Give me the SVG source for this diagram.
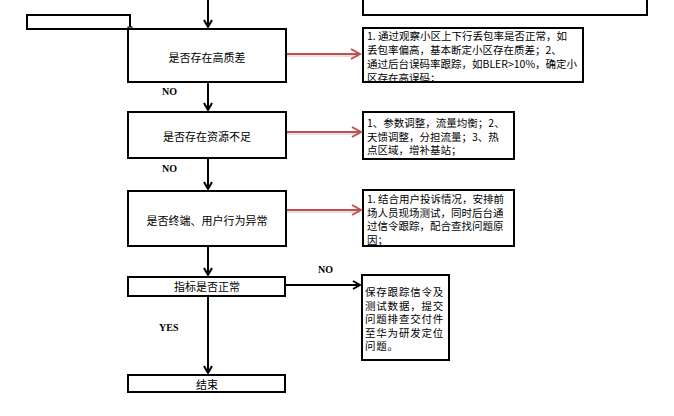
<svg xmlns="http://www.w3.org/2000/svg" width="674" height="416" viewBox="0 0 674 416">
<style>
.box{fill:#fff;stroke:#000;stroke-width:2}
.t{font-family:"Noto Sans CJK SC","Liberation Sans",sans-serif;font-size:11px;fill:#000}
.s{font-size:10.5px}
.c{text-anchor:middle;dominant-baseline:central}
.lbl{font-family:"Liberation Serif",serif;font-size:10px;font-weight:bold;fill:#000}
.blk{stroke:#000;stroke-width:2;fill:none}
.red{stroke:#c0504d;stroke-width:2;fill:none}
.sh{stroke:#000;stroke-opacity:0.12;stroke-width:2;fill:none}
</style>
<defs>
<marker id="ab" markerWidth="10" markerHeight="10" refX="8" refY="5" orient="auto" markerUnits="userSpaceOnUse"><path d="M1,1 L8,5 L1,9" fill="none" stroke="#000" stroke-width="2"/></marker>
<marker id="ar" markerWidth="12" markerHeight="12" refX="10" refY="6" orient="auto" markerUnits="userSpaceOnUse"><path d="M1,1 L10,6 L1,11" fill="none" stroke="#c0504d" stroke-width="2"/></marker>
<clipPath id="c1"><rect x="364" y="29" width="218" height="52"/></clipPath>
<clipPath id="c3"><rect x="364" y="191" width="149" height="54"/></clipPath>
</defs>
<rect width="674" height="416" fill="#fff"/>

<g id="topleft"><rect class="box" x="27" y="15" width="103" height="14"/><rect x="128" y="27" width="4" height="4" fill="#fff" stroke="#000" stroke-width="1"/></g>
<g id="topright"><rect class="box" x="363" y="-10" width="284" height="25"/></g>

<g id="n1"><rect class="box" x="128" y="29" width="158" height="53"/><text class="t c" x="207" y="57">是否存在高质差</text></g>
<g id="n2"><rect class="box" x="128" y="112" width="158" height="46"/><text class="t c" x="207" y="136">是否存在资源不足</text></g>
<g id="n3"><rect class="box" x="128" y="191" width="158" height="55"/><text class="t c" x="207" y="220">是否终端、用户行为异常</text></g>
<g id="n4"><rect class="box" x="128" y="277" width="157" height="19"/><text class="t c" x="207" y="286">指标是否正常</text></g>
<g id="n5"><rect class="box" x="128" y="375" width="157" height="17"/><text class="t c" x="207" y="384">结束</text></g>

<g id="r1"><rect class="box" x="363" y="28" width="220" height="54"/>
<g clip-path="url(#c1)">
<text class="t s" x="367" y="40">1. 通过观察小区上下行丢包率是否正常，如<tspan x="367" dy="14">丢包率偏高，基本断定小区存在质差；2、</tspan><tspan x="367" dy="14">通过后台误码率跟踪，如BLER&gt;10%，确定小</tspan><tspan x="367" dy="14">区存在高误码；</tspan></text>
</g></g>
<g id="r2"><rect class="box" x="363" y="112" width="151" height="47"/>
<text class="t s" x="367" y="127">1、参数调整，流量均衡；2、<tspan x="367" dy="13.5">天馈调整，分担流量；3、热</tspan><tspan x="367" dy="13.5">点区域，增补基站；</tspan></text>
</g>
<g id="r3"><rect class="box" x="363" y="190" width="151" height="56"/>
<g clip-path="url(#c3)">
<text class="t s" x="367" y="203">1. 结合用户投诉情况，安排前<tspan x="367" dy="13.5">场人员现场测试，同时后台通</tspan><tspan x="367" dy="13.5">过信令跟踪，配合查找问题原</tspan><tspan x="367" dy="13.5">因；</tspan></text>
</g></g>
<g id="r4"><rect class="box" x="362" y="275" width="87" height="85"/>
<text class="t s" x="365" y="296" letter-spacing="0.8">保存跟踪信令及<tspan x="365" dy="13.5">测试数据，提交</tspan><tspan x="365" dy="13.5">问题排查交付件</tspan><tspan x="365" dy="13.5">至华为研发定位</tspan><tspan x="365" dy="13.5">问题。</tspan></text>
</g>

<g id="connectors">
<line class="blk" x1="208" y1="0" x2="208" y2="27" marker-end="url(#ab)"/>
<line class="blk" x1="208" y1="82" x2="208" y2="110" marker-end="url(#ab)"/>
<line class="blk" x1="208" y1="158" x2="208" y2="189" marker-end="url(#ab)"/>
<line class="blk" x1="208" y1="246" x2="208" y2="275" marker-end="url(#ab)"/>
<line class="blk" x1="208" y1="296" x2="208" y2="373" marker-end="url(#ab)"/>
<line class="blk" x1="285" y1="285" x2="360" y2="285" marker-end="url(#ab)"/>
<line class="sh" x1="287" y1="56" x2="359" y2="56"/>
<line class="red" x1="287" y1="54" x2="360" y2="54" marker-end="url(#ar)"/>
<line class="sh" x1="287" y1="134" x2="359" y2="134"/>
<line class="red" x1="287" y1="132" x2="361" y2="132" marker-end="url(#ar)"/>
<line class="sh" x1="287" y1="212" x2="359" y2="212"/>
<line class="red" x1="287" y1="210" x2="361" y2="210" marker-end="url(#ar)"/>
</g>
<g id="labels">
<text class="lbl" x="162" y="95">NO</text>
<text class="lbl" x="162" y="172">NO</text>
<text class="lbl" x="318" y="273">NO</text>
<text class="lbl" x="159" y="331">YES</text>
</g>
</svg>
